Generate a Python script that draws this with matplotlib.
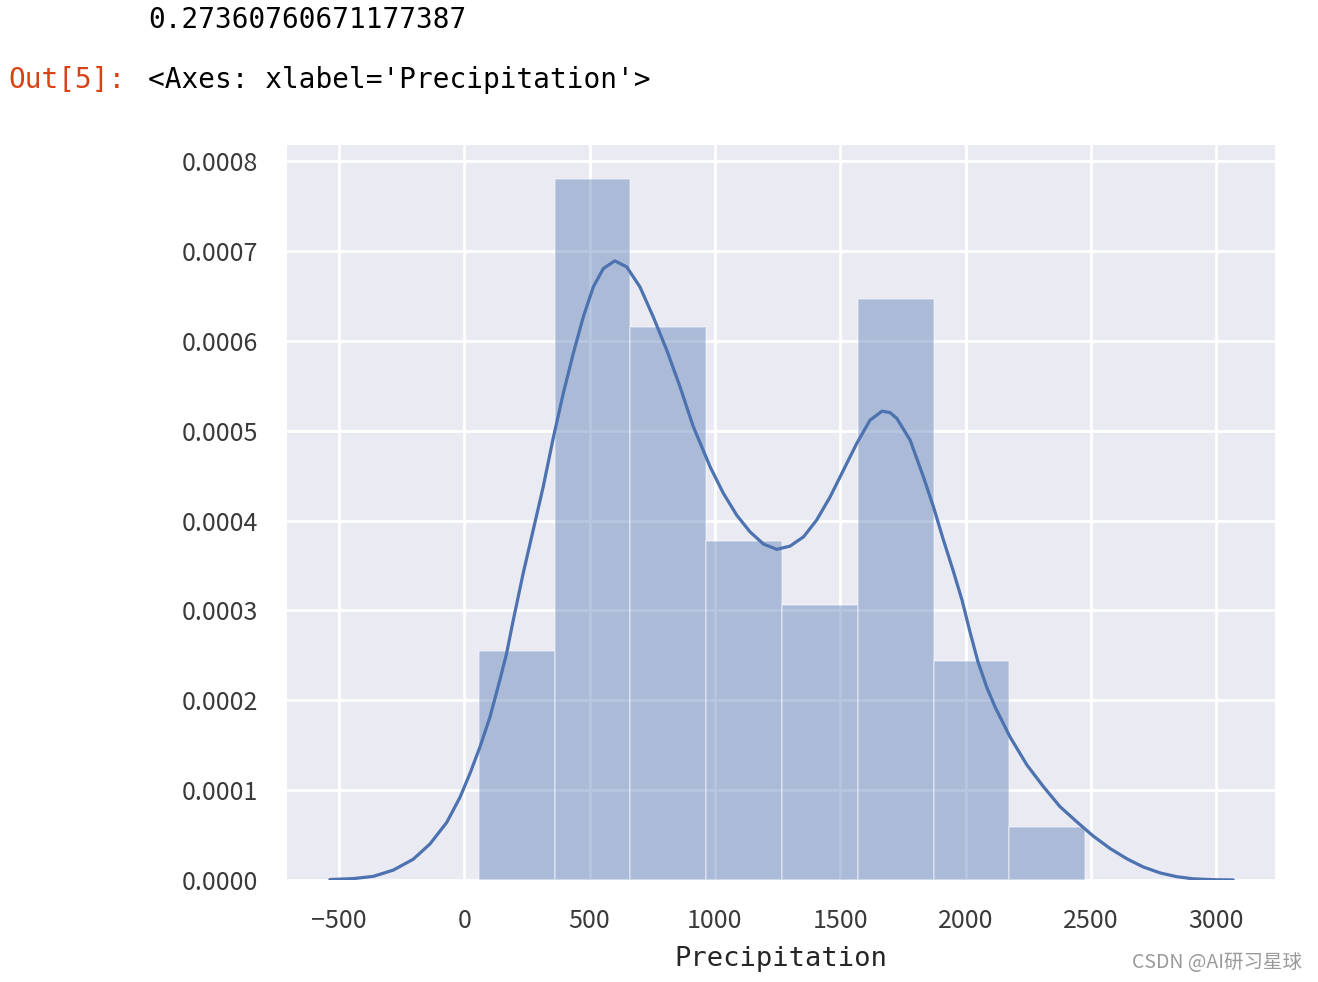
import matplotlib
matplotlib.use("Agg")
import matplotlib.pyplot as plt
import seaborn as sns

# 直方圖的 bin 邊界與密度
bin_edges = [59, 361, 663, 966, 1268, 1570, 1873, 2175, 2477]
bin_density = [2.548e-4, 7.800e-4, 6.150e-4, 3.772e-4, 3.056e-4, 6.465e-4, 2.437e-4, 0.586e-4]

# KDE 曲線 (從圖上讀出的點, y 單位 1e-4)
kde_x = [-536, -443, -363, -283, -204, -137, -70, -17, 23, 63, 103, 142, 169, 194,
         235, 275, 315, 355, 395, 435, 475, 515, 555, 601, 648, 701, 754, 808,
         861, 914, 981, 1034, 1087, 1140, 1194, 1247, 1300, 1354, 1406, 1460,
         1513, 1566, 1619, 1667, 1699, 1726, 1779, 1832, 1872, 1912, 1950, 1986,
         2018, 2050, 2086, 2118, 2178, 2245, 2311, 2377, 2445, 2509, 2577, 2645,
         2709, 2777, 2844, 2908, 2988, 3068]
kde_y = [0.005, 0.015, 0.040, 0.11, 0.23, 0.40, 0.64, 0.92, 1.187, 1.483, 1.817,
         2.225, 2.522, 2.871, 3.412, 3.894, 4.376, 4.918, 5.415, 5.860, 6.268,
         6.601, 6.806, 6.891, 6.824, 6.601, 6.268, 5.897, 5.489, 5.044, 4.599,
         4.303, 4.061, 3.875, 3.739, 3.680, 3.716, 3.820, 4.006, 4.265, 4.562,
         4.859, 5.118, 5.218, 5.202, 5.137, 4.896, 4.487, 4.154, 3.783, 3.449,
         3.116, 2.760, 2.426, 2.136, 1.925, 1.591, 1.280, 1.038, 0.816, 0.645,
         0.490, 0.350, 0.234, 0.145, 0.078, 0.036, 0.013, 0.003, 0.0]
kde_y = [v * 1e-4 for v in kde_y]

xticks = [-500, 0, 500, 1000, 1500, 2000, 2500, 3000]
yticks = [0.0, 0.0001, 0.0002, 0.0003, 0.0004, 0.0005, 0.0006, 0.0007, 0.0008]
ytick_labels = ["0.0000", "0.0001", "0.0002", "0.0003", "0.0004",
                "0.0005", "0.0006", "0.0007", "0.0008"]

sns.set_style("darkgrid")
plt.rcParams["font.family"] = ["Noto Sans CJK SC", "DejaVu Sans"]

blue = "#4C72B0"

fig = plt.figure(figsize=(13.18, 9.82), dpi=100)
ax = fig.add_axes([0.2178, 0.1039, 0.7496, 0.7484])

widths = [bin_edges[i + 1] - bin_edges[i] for i in range(len(bin_density))]
ax.bar(bin_edges[:-1], bin_density, width=widths, align="edge",
       color=blue, alpha=0.4, edgecolor="white", linewidth=1.2)
ax.plot(kde_x, kde_y, color=blue, linewidth=2.3,
        solid_joinstyle="round", solid_capstyle="round")

ax.set_xlim(-707, 3235)
ax.set_ylim(0, 0.000818)
ax.set_xticks(xticks)
ax.set_yticks(yticks)
ax.set_yticklabels(ytick_labels)
ax.grid(True, color="white", linewidth=2.0)
ax.set_axisbelow(True)
ax.tick_params(axis="both", length=0, labelsize=18, labelcolor="#3a3a3a")
ax.tick_params(axis="y", pad=21)
ax.tick_params(axis="x", pad=20)
ax.set_xlabel("Precipitation", family="DejaVu Sans Mono", fontsize=19.5,
              color="#262626", labelpad=8.5)
for s in ax.spines.values():
    s.set_visible(False)

# notebook 的輸出文字
fig.text(148 / 1318, 1 - 20 / 982, "0.27360760671177387", family="DejaVu Sans Mono",
         fontsize=20, color="black", va="center", ha="left")
fig.text(8 / 1318, 1 - 80 / 982, "Out[5]:", family="DejaVu Sans Mono",
         fontsize=20, color="#D84315", va="center", ha="left")
fig.text(148 / 1318, 1 - 80 / 982, "<Axes: xlabel='Precipitation'>",
         family="DejaVu Sans Mono", fontsize=20, color="black", va="center", ha="left")
fig.text(1302 / 1318, 1 - 963 / 982, "CSDN @AI研习星球", fontsize=14,
         color="#9a9a9a", va="center", ha="right")

fig.savefig("out.png", dpi=100)
